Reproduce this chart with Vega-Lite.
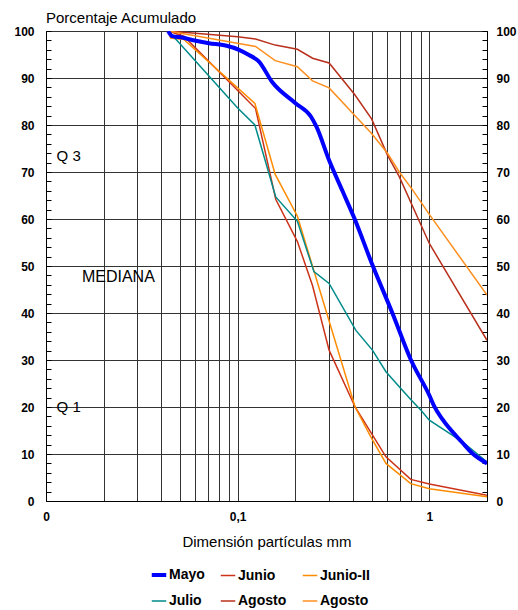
{
  "$schema": "https://vega.github.io/schema/vega-lite/v6.json",
  "width": 441,
  "height": 470,
  "autosize": "none",
  "padding": {"left": 46, "top": 31, "right": 31, "bottom": 109},
  "title": {"text": "Porcentaje Acumulado", "anchor": "start", "frame": "group", "fontSize": 15, "fontWeight": "normal", "font": "Liberation Sans", "color": "black", "offset": -1},
  "config": {
    "view": {"stroke": "black", "strokeWidth": 1},
    "font": "Liberation Sans",
    "axis": {"labelFont": "Liberation Sans", "titleFont": "Liberation Sans", "labelColor": "black", "titleColor": "black", "domainColor": "black", "tickColor": "black", "gridColor": "#333333", "gridOpacity": 1},
    "legend": {
      "orient": "none", "legendX": 106, "legendY": 537, "columns": 3, "direction": "horizontal", "columnPadding": 12, "rowPadding": 11,
      "symbolType": "stroke", "symbolSize": 210, "labelFontSize": 14, "labelFontWeight": "bold", "labelFont": "Liberation Sans",
      "labelColor": "black", "labelOffset": 3, "padding": 0
    }
  },
  "datasets": {
    "lines": [
      {"s": "Mayo", "d": 0.0434, "p": 100},
      {"s": "Mayo", "d": 0.0455, "p": 98.9},
      {"s": "Mayo", "d": 0.0513, "p": 98.6},
      {"s": "Mayo", "d": 0.0579, "p": 98.1},
      {"s": "Mayo", "d": 0.0708, "p": 97.4},
      {"s": "Mayo", "d": 0.0866, "p": 96.9},
      {"s": "Mayo", "d": 0.1016, "p": 96.0},
      {"s": "Mayo", "d": 0.1146, "p": 94.9},
      {"s": "Mayo", "d": 0.1292, "p": 93.5},
      {"s": "Mayo", "d": 0.151, "p": 89.2},
      {"s": "Mayo", "d": 0.201, "p": 84.6},
      {"s": "Mayo", "d": 0.241, "p": 81.8},
      {"s": "Mayo", "d": 0.258, "p": 79.6},
      {"s": "Mayo", "d": 0.300, "p": 72.5},
      {"s": "Mayo", "d": 0.352, "p": 66.0},
      {"s": "Mayo", "d": 0.406, "p": 60.2},
      {"s": "Mayo", "d": 0.505, "p": 50.2},
      {"s": "Mayo", "d": 0.643, "p": 39.9},
      {"s": "Mayo", "d": 0.802, "p": 30.0},
      {"s": "Mayo", "d": 1.0, "p": 22.5},
      {"s": "Mayo", "d": 1.06, "p": 20.2},
      {"s": "Mayo", "d": 1.17, "p": 17.4},
      {"s": "Mayo", "d": 1.49, "p": 12.4},
      {"s": "Mayo", "d": 1.67, "p": 10.2},
      {"s": "Mayo", "d": 2.0, "p": 8.0},

      {"s": "Junio", "d": 0.0434, "p": 100},
      {"s": "Junio", "d": 0.0524, "p": 98.9},
      {"s": "Junio", "d": 0.124, "p": 83.5},
      {"s": "Junio", "d": 0.158, "p": 64.2},
      {"s": "Junio", "d": 0.205, "p": 55.2},
      {"s": "Junio", "d": 0.246, "p": 45.8},
      {"s": "Junio", "d": 0.30, "p": 32.1},
      {"s": "Junio", "d": 0.41, "p": 20.0},
      {"s": "Junio", "d": 0.594, "p": 9.4},
      {"s": "Junio", "d": 0.80, "p": 4.6},
      {"s": "Junio", "d": 1.0, "p": 3.6},
      {"s": "Junio", "d": 2.0, "p": 1.2},

      {"s": "Junio-II", "d": 0.0434, "p": 100},
      {"s": "Junio-II", "d": 0.0447, "p": 98.5},
      {"s": "Junio-II", "d": 0.0524, "p": 98.2},
      {"s": "Junio-II", "d": 0.123, "p": 84.6},
      {"s": "Junio-II", "d": 0.157, "p": 69.5},
      {"s": "Junio-II", "d": 0.205, "p": 60.6},
      {"s": "Junio-II", "d": 0.41, "p": 20.0},
      {"s": "Junio-II", "d": 0.496, "p": 13.6},
      {"s": "Junio-II", "d": 0.594, "p": 8.0},
      {"s": "Junio-II", "d": 0.80, "p": 3.7},
      {"s": "Junio-II", "d": 1.0, "p": 2.6},
      {"s": "Junio-II", "d": 2.0, "p": 0.9},

      {"s": "Julio", "d": 0.0434, "p": 100},
      {"s": "Julio", "d": 0.05, "p": 97.3},
      {"s": "Julio", "d": 0.1, "p": 83.6},
      {"s": "Julio", "d": 0.123, "p": 80.0},
      {"s": "Julio", "d": 0.158, "p": 64.7},
      {"s": "Julio", "d": 0.205, "p": 59.5},
      {"s": "Julio", "d": 0.25, "p": 48.8},
      {"s": "Julio", "d": 0.30, "p": 46.3},
      {"s": "Julio", "d": 0.414, "p": 36.3},
      {"s": "Julio", "d": 0.505, "p": 32.1},
      {"s": "Julio", "d": 0.594, "p": 27.5},
      {"s": "Julio", "d": 0.697, "p": 24.3},
      {"s": "Julio", "d": 0.80, "p": 21.6},
      {"s": "Julio", "d": 0.905, "p": 19.3},
      {"s": "Julio", "d": 1.0, "p": 17.2},
      {"s": "Julio", "d": 1.49, "p": 12.6},
      {"s": "Julio", "d": 2.0, "p": 8.3},

      {"s": "Agosto", "d": 0.0434, "p": 100},
      {"s": "Agosto", "d": 0.1, "p": 98.8},
      {"s": "Agosto", "d": 0.124, "p": 98.3},
      {"s": "Agosto", "d": 0.157, "p": 97.0},
      {"s": "Agosto", "d": 0.205, "p": 96.1},
      {"s": "Agosto", "d": 0.246, "p": 94.2},
      {"s": "Agosto", "d": 0.30, "p": 93.2},
      {"s": "Agosto", "d": 0.406, "p": 86.6},
      {"s": "Agosto", "d": 0.50, "p": 81.3},
      {"s": "Agosto", "d": 0.605, "p": 73.6},
      {"s": "Agosto", "d": 0.697, "p": 69.0},
      {"s": "Agosto", "d": 1.0, "p": 54.8},
      {"s": "Agosto", "d": 2.0, "p": 34.2},

      {"s": "Agosto-II", "d": 0.0434, "p": 100},
      {"s": "Agosto-II", "d": 0.124, "p": 96.7},
      {"s": "Agosto-II", "d": 0.157, "p": 93.7},
      {"s": "Agosto-II", "d": 0.205, "p": 92.4},
      {"s": "Agosto-II", "d": 0.246, "p": 89.4},
      {"s": "Agosto-II", "d": 0.30, "p": 87.9},
      {"s": "Agosto-II", "d": 0.5, "p": 78.2},
      {"s": "Agosto-II", "d": 0.605, "p": 74.0},
      {"s": "Agosto-II", "d": 0.697, "p": 70.0},
      {"s": "Agosto-II", "d": 0.818, "p": 66.2},
      {"s": "Agosto-II", "d": 1.0, "p": 61.0},
      {"s": "Agosto-II", "d": 2.0, "p": 43.8}
    ],
    "notes": [
      {"label": "Q 3", "d": 0.01136, "p": 73.5},
      {"label": "MEDIANA", "d": 0.0154, "p": 47.7},
      {"label": "Q 1", "d": 0.01136, "p": 19.9}
    ]
  },
  "layer": [
    {
      "data": {"name": "lines"},
      "transform": [{"filter": "datum.s != 'Mayo'"}],
      "mark": {"type": "line", "clip": true, "strokeWidth": 1.5},
      "encoding": {
        "x": {
          "field": "d", "type": "quantitative",
          "scale": {"type": "log", "domain": [0.01, 2], "nice": false},
          "axis": {
            "orient": "bottom",
            "values": [0.01, 0.02, 0.03, 0.04, 0.05, 0.06, 0.07, 0.08, 0.09, 0.1, 0.2, 0.3, 0.4, 0.5, 0.6, 0.7, 0.8, 0.9, 1, 2],
            "labelExpr": "datum.value == 0.01 ? '0' : (datum.value == 0.1 ? '0,1' : (datum.value == 1 ? '1' : ''))",
            "grid": true, "ticks": false,
            "labelFontSize": 12, "labelFontWeight": "bold", "labelPadding": 10, "labelFlush": false, "labelOverlap": false,
            "title": "Dimensión partículas mm", "titleFontSize": 15, "titleFontWeight": "normal", "titlePadding": 12
          }
        },
        "y": {
          "field": "p", "type": "quantitative",
          "scale": {"domain": [0, 100], "nice": false},
          "axis": {
            "orient": "left",
            "values": [0, 2, 4, 6, 8, 10, 12, 14, 16, 18, 20, 22, 24, 26, 28, 30, 32, 34, 36, 38, 40, 42, 44, 46, 48, 50, 52, 54, 56, 58, 60, 62, 64, 66, 68, 70, 72, 74, 76, 78, 80, 82, 84, 86, 88, 90, 92, 94, 96, 98, 100],
            "labelExpr": "datum.value % 10 == 0 ? datum.label : ''",
            "grid": true,
            "gridOpacity": {"condition": {"test": "datum.value % 10 == 0", "value": 1}, "value": 0},
            "tickSize": -5, "labelPadding": 17,
            "labelFontSize": 12, "labelFontWeight": "bold", "labelOverlap": false, "labelFlush": false,
            "title": null
          }
        },
        "color": {
          "field": "s", "type": "nominal",
          "scale": {"domain": ["Mayo", "Junio", "Junio-II", "Julio", "Agosto", "Agosto-II"], "range": ["#0000FF", "#CC3318", "#FF8C00", "#008B8B", "#B8301C", "#FF8F1F"]},
          "legend": {
            "title": null,
            "labelExpr": "datum.label == 'Agosto-II' ? 'Agosto' : datum.label",
            "encode": {"symbols": {"update": {"strokeWidth": {"signal": "datum.value == 'Mayo' ? 4 : 1.5"}}}}
          }
        }
      }
    },
    {
      "data": {"name": "lines"},
      "transform": [{"filter": "datum.s == 'Mayo'"}],
      "mark": {"type": "line", "clip": true, "strokeWidth": 4, "interpolate": "monotone"},
      "encoding": {
        "x": {"field": "d", "type": "quantitative", "scale": {"type": "log", "domain": [0.01, 2], "nice": false}},
        "y": {"field": "p", "type": "quantitative", "scale": {"domain": [0, 100], "nice": false}, "axis": null},
        "color": {"field": "s", "type": "nominal"}
      }
    },
    {
      "data": {"name": "notes"},
      "mark": {"type": "text", "align": "left", "baseline": "middle", "color": "black", "font": "Liberation Sans"},
      "encoding": {
        "x": {"field": "d", "type": "quantitative", "scale": {"type": "log", "domain": [0.01, 2], "nice": false}},
        "y": {
          "field": "p", "type": "quantitative",
          "scale": {"domain": [0, 100], "nice": false},
          "axis": {
            "orient": "right",
            "values": [0, 2, 4, 6, 8, 10, 12, 14, 16, 18, 20, 22, 24, 26, 28, 30, 32, 34, 36, 38, 40, 42, 44, 46, 48, 50, 52, 54, 56, 58, 60, 62, 64, 66, 68, 70, 72, 74, 76, 78, 80, 82, 84, 86, 88, 90, 92, 94, 96, 98, 100],
            "labelExpr": "datum.value % 10 == 0 ? datum.label : ''",
            "grid": false,
            "tickSize": -5, "labelPadding": 14,
            "labelFontSize": 12, "labelFontWeight": "bold", "labelOverlap": false, "labelFlush": false,
            "title": null
          }
        },
        "text": {"field": "label"},
        "size": {"condition": {"test": "datum.label == 'MEDIANA'", "value": 16}, "value": 15}
      }
    }
  ],
  "resolve": {"axis": {"y": "independent"}}
}
